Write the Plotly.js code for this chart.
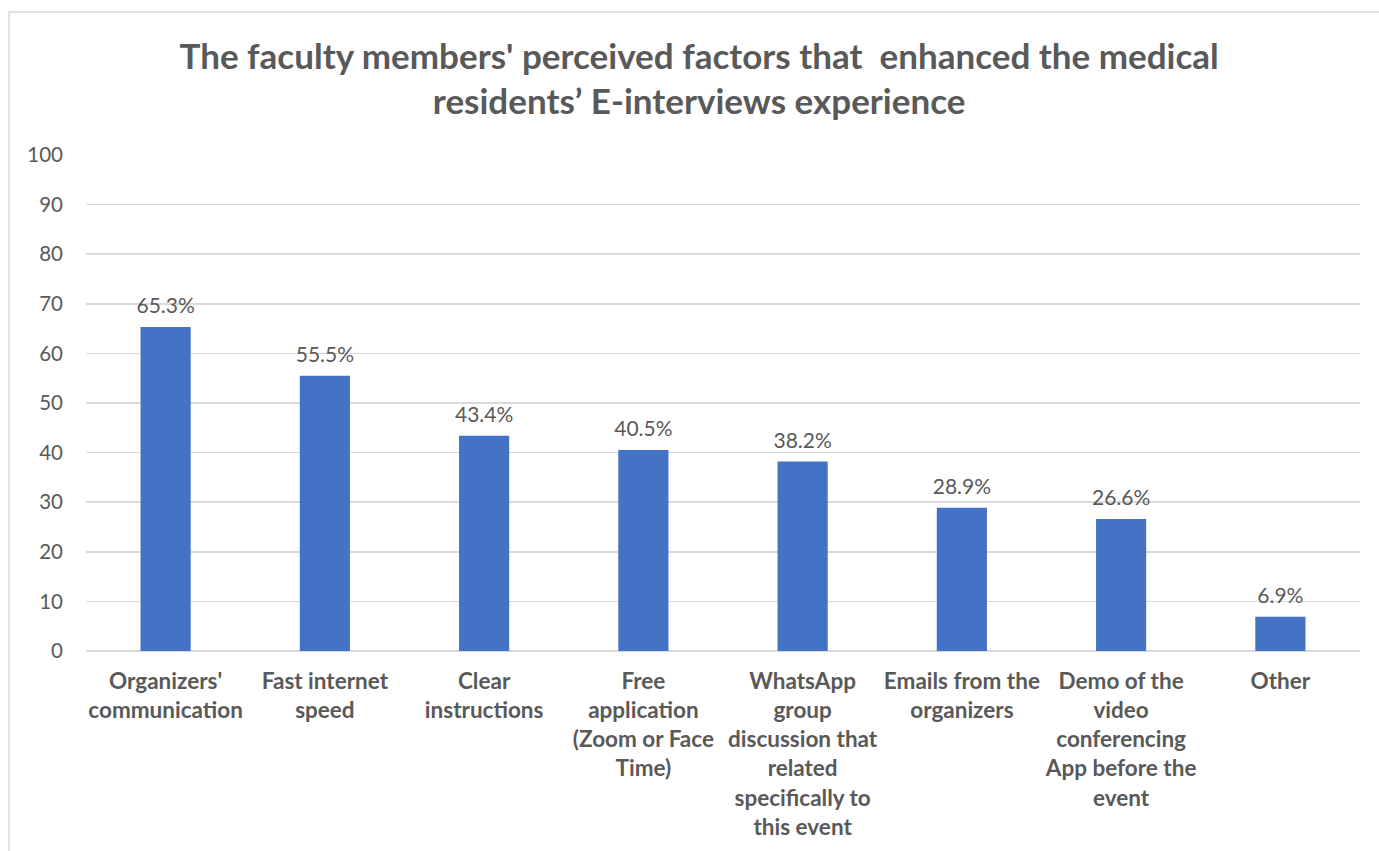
<!DOCTYPE html>
<html>
<head>
<meta charset="utf-8">
<script src="https://cdn.plot.ly/plotly-3.0.1.min.js"></script>
<style>html,body{margin:0;padding:0;background:#fff;}#chart{width:1379px;height:851px;}</style>
</head>
<body>
<div id="chart"></div>
<script>
const categories = [
  "Organizers'<br>communication",
  "Fast internet<br>speed",
  "Clear<br>instructions",
  "Free<br>application<br>(Zoom or Face<br>Time)",
  "WhatsApp<br>group<br>discussion that<br>related<br>specifically to<br>this event",
  "Emails from the<br>organizers",
  "Demo of the<br>video<br>conferencing<br>App before the<br>event",
  "Other"
];
const values = [65.3, 55.5, 43.4, 40.5, 38.2, 28.9, 26.6, 6.9];
const yTicks = [0, 10, 20, 30, 40, 50, 60, 70, 80, 90, 100];
const titleText = "The faculty members' perceived factors that  enhanced the medical<br>residents\u2019 E-interviews experience";

const font = "Lato, 'Open Sans', 'Liberation Sans', sans-serif";
const gray = "#595959";

const bars = {
  type: "bar",
  x: categories,
  y: values,
  marker: {color: "#4472C4"},
  hoverinfo: "none"
};

const labels = {
  type: "scatter",
  mode: "markers+text",
  x: categories,
  y: values,
  text: values.map(v => v.toFixed(1) + "%"),
  textposition: "top center",
  textfont: {family: font, size: 21, color: gray},
  marker: {size: 12, opacity: 0, color: "#4472C4"},
  cliponaxis: false,
  hoverinfo: "none"
};

const layout = {
  width: 1379, height: 851,
  margin: {l: 86, r: 19, t: 155, b: 200},
  paper_bgcolor: "#fff", plot_bgcolor: "#fff",
  bargap: 0.685,
  showlegend: false,
  title: {
    text: titleText,
    x: 0.507, xanchor: "center",
    y: 0.919, yanchor: "top",
    font: {family: font, size: 35, color: gray, weight: "bold"}
  },
  xaxis: {
    showgrid: false, showline: false, zeroline: false,
    tickfont: {family: font, size: 22.5, color: gray, weight: "bold"},
    ticks: "", ticklen: 0,
    ticklabelstandoff: 14
  },
  yaxis: {
    range: [0, 100], tickvals: yTicks,
    showgrid: true, gridcolor: "#d9d9d9", gridwidth: 1.5,
    zeroline: true, zerolinecolor: "#d9d9d9", zerolinewidth: 1.5,
    showline: false,
    tickfont: {family: font, size: 20.5, color: gray},
    ticklabelstandoff: 22
  },
  shapes: [{
    type: "rect", xref: "paper", yref: "paper",
    x0: (9 - 86) / 1274, x1: (1395 - 86) / 1274,
    y0: (651 - 870) / 496, y1: (651 - 12) / 496,
    line: {color: "#d9d9d9", width: 1.5}, fillcolor: "rgba(0,0,0,0)", layer: "below"
  }]
};

Plotly.newPlot("chart", [bars, labels], layout, {displayModeBar: false, staticPlot: true});
</script>
</body>
</html>
